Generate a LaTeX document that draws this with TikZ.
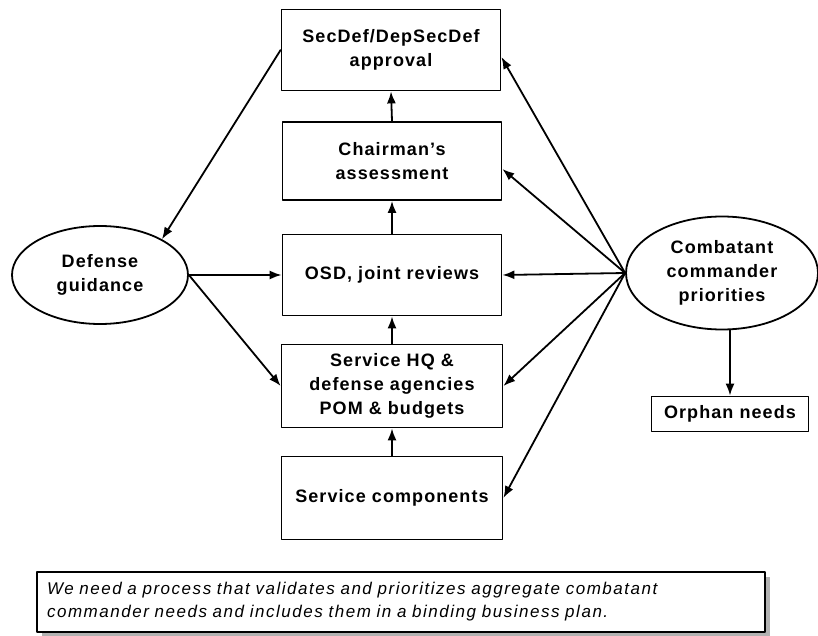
\documentclass[tikz,border=0pt]{standalone}
\usepackage{fontspec}
\setmainfont{Liberation Sans}[LetterSpace=6]
\newfontfamily\notefont{Liberation Sans}[LetterSpace=9]
\usepackage{tikz}
\usetikzlibrary{shapes,arrows,arrows.meta}
\usetikzlibrary{shadows}
\usetikzlibrary{positioning}
\tikzstyle{every node}=[font=\fontsize{18}{24}\selectfont\bfseries]
\tikzstyle{every path}=[line width=1.8pt,line cap=round,line join=round]
\tikzstyle{block}=[draw,rectangle,align=center,inner sep=0pt,minimum width=219pt,minimum height=81pt]
\tikzstyle{oval}=[draw,ellipse,align=center,inner sep=0pt]
\tikzstyle{arr}=[-{Latex[length=12pt,width=9pt]}]

\begin{document}
\begin{tikzpicture}[x=1pt,y=-1pt]
\useasboundingbox (0,0) rectangle (818,636);

% centre column
\node [block] (sec) at (391,50) {SecDef/DepSecDef\\approval};
\node [block,minimum height=78pt] (chair) at (392,161) {Chairman's\\assessment};
\node [block] (osd) at (392,275) {OSD, joint reviews};
\node [block,minimum width=221pt,minimum height=83pt] (hq) at (392,386) {Service HQ \&\\defense agencies\\POM \& budgets};
\node [block,minimum width=221pt,minimum height=83pt] (comp) at (392,498) {Service components};

% sides
\node [oval,minimum width=176pt,minimum height=98pt] (guid) at (100,275) {Defense\\guidance};
\node [oval,minimum width=192pt,minimum height=113pt] (comb) at (722,273) {Combatant\\commander\\priorities};
\node [draw,rectangle,minimum width=157pt,minimum height=35pt,inner sep=0pt] (orph) at (730,414) {Orphan needs};

% note
\node [draw,rectangle,fill=white,drop shadow={shadow xshift=5pt,shadow yshift=-5pt,fill=gray!60,opacity=1},
  minimum width=728pt,minimum height=60pt,inner xsep=10pt,text width=708pt,align=left,
  font=\notefont\fontsize{17}{23}\selectfont\itshape] (note) at (401,602)
  {We need a process that validates and prioritizes aggregate combatant\\commander needs and includes them in a binding business plan.};

\draw [arr] (chair.north) -- (sec.south);
\draw [arr] (osd.north) -- (chair.south);
\draw [arr] (hq.north) -- (osd.south);
\draw [arr] (comp.north) -- (hq.south);

\draw [arr] (sec.west) -- (guid.30);
\draw [arr] (guid.east) -- (osd.west);
\draw [arr] (guid.east) -- (hq.west);

\draw [arr] (comb.west) -- ([yshift=-7pt]sec.east);
\draw [arr] (comb.west) -- ([yshift=-8pt]chair.east);
\draw [arr] (comb.west) -- (osd.east);
\draw [arr] (comb.west) -- (hq.east);
\draw [arr] (comb.west) -- (comp.east);
\draw [arr] (orph.north |- comb.south) -- (orph.north);
\end{tikzpicture}
\end{document}
